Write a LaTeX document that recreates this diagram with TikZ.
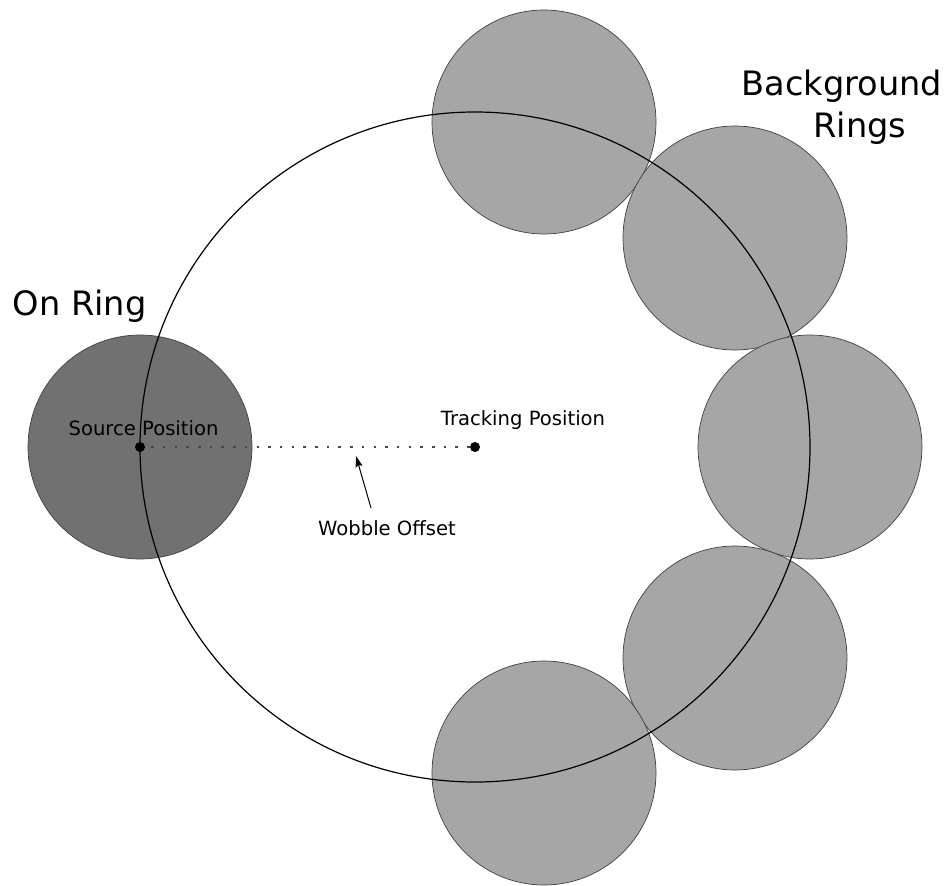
\documentclass[tikz,border=0pt]{standalone}
\usepackage{fontspec}
\setmainfont{DejaVu Sans}
\usetikzlibrary{arrows.meta}
\definecolor{lightring}{HTML}{A6A6A6}
\definecolor{darkring}{HTML}{717171}
\tikzset{
  ring/.style={circle, inner sep=0pt, minimum size=224pt, draw=black!75, line width=0.7pt},
  bgring/.style={ring, fill=lightring},
  onring/.style={ring, fill=darkring},
  bigtext/.style={anchor=base, font=\fontsize{33.6}{40}\selectfont, inner sep=0pt},
  smalltext/.style={anchor=base, font=\fontsize{19.6}{23}\selectfont, inner sep=0pt},
  posdot/.style={circle, fill=black, inner sep=0pt, minimum size=10pt}
}
\begin{document}
\begin{tikzpicture}[x=1pt,y=-1pt]
\useasboundingbox (0,0) rectangle (951,886);
% background rings
\node[bgring] (b1) at (544,122) {};
\node[bgring] (b2) at (735,238) {};
\node[bgring] (b3) at (810,447) {};
\node[bgring] (b4) at (735,658) {};
\node[bgring] (b5) at (544,773) {};
% on ring
\node[onring] (on) at (140,447) {};
% tracking circle
\node[circle, inner sep=0pt, minimum size=670pt, draw=black, line width=1.2pt] (track) at (475,447) {};
% dots
\node[posdot] (src) at (140,447) {};
\node[posdot] (trk) at (475,447) {};
\draw[black!72, line width=1.5pt, dash pattern=on 2.5pt off 9.2pt, dash phase=-6pt] (src) -- (trk);
% arrow
\coordinate (atail) at (371,508);
\coordinate (ahead) at (356,456);
\draw[line width=1pt, -{Stealth[length=11pt,width=7pt,inset=1.5pt]}] (atail) -- (ahead);
% labels
\node[bigtext] (lbg) at (842,95) {Background};
\node[bigtext] (lrings) at (860,137) {Rings};
\node[bigtext] (lon) at (79.5,315) {On Ring};
\node[smalltext] (lsrc) at (143.5,435) {Source Position};
\node[smalltext] (ltrk) at (523,425) {Tracking Position};
\node[smalltext] (lwob) at (387,535) {Wobble Offset};
\end{tikzpicture}
\end{document}
